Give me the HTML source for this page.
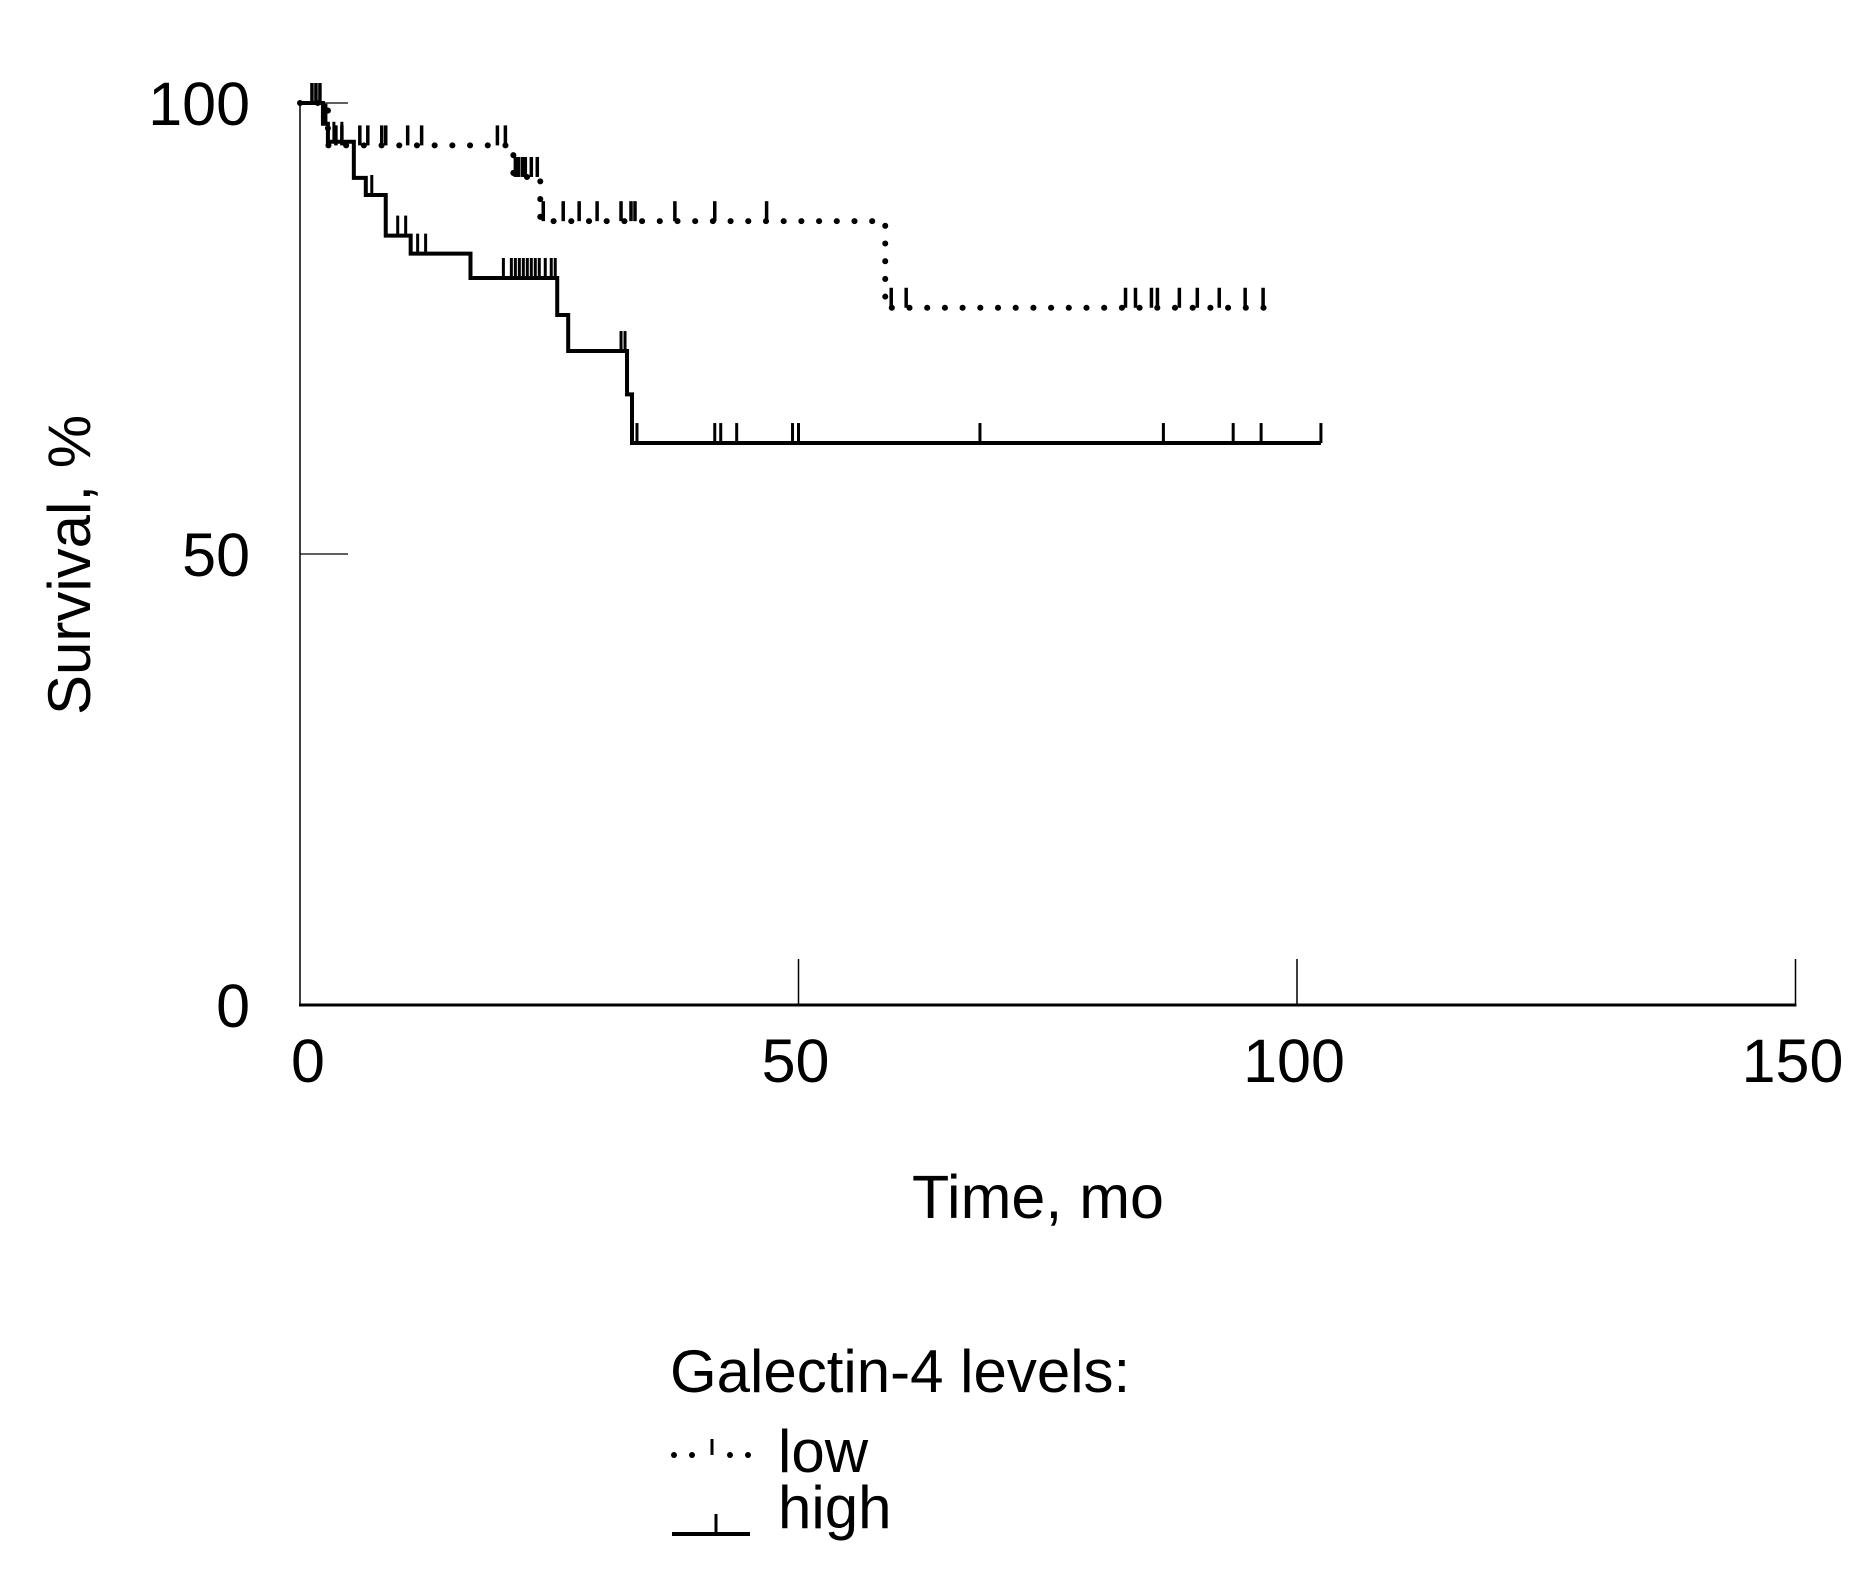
<!DOCTYPE html>
<html><head><meta charset="utf-8"><style>
html,body{margin:0;padding:0;background:#fff;}
svg{display:block;}
text{font-family:"Liberation Sans Narrow","Liberation Sans",sans-serif;fill:#000;}
</style></head><body>
<svg id="chart" width="1872" height="1593" viewBox="0 0 1872 1593" xmlns="http://www.w3.org/2000/svg">
<g id="axes"></g>
<g id="series"></g>
<text x="0" y="0" font-size="60" text-anchor="middle" transform="translate(90,565) rotate(-90)">Survival, %</text>
<text x="1038" y="1218" font-size="61" text-anchor="middle">Time, mo</text>
<g>
<text x="670" y="1392" font-size="60">Galectin-4 levels:</text>
<g>
<circle cx="674" cy="1455" r="3" fill="#000"/><circle cx="692" cy="1455" r="3" fill="#000"/>
<line x1="712" y1="1455" x2="712" y2="1439" stroke="#000" stroke-width="3"/>
<circle cx="730" cy="1455" r="3" fill="#000"/><circle cx="748" cy="1455" r="3" fill="#000"/>
<text x="778" y="1472" font-size="60">low</text>
</g>
<g>
<line x1="672" y1="1534" x2="750" y2="1534" stroke="#000" stroke-width="4"/>
<line x1="716" y1="1534" x2="716" y2="1514" stroke="#000" stroke-width="3"/>
<text x="778" y="1528" font-size="60">high</text>
</g>
</g>
</svg>
<script>
const xTicks = [0, 50, 100, 150];
const yTicks = [0, 50, 100];
// Kaplan-Meier step data: [time, survival after step]
const lowSteps = [[0,100],[2.8,95.3],[21.4,91.8],[24.1,86.9],[58.7,77.3]];
const lowEnd = 96.8;
const lowCensor = [1.2,1.6,2.0,3.6,4.2,6,6.8,8.2,8.6,10.8,12.2,19.8,20.6,21.6,21.9,22.3,22.6,23.2,23.8,24.4,26.4,28,29.8,32.2,33.2,33.6,37.6,41.6,46.8,59.3,60.8,82.8,83.8,85.4,86,88.2,90,92.2,94.8,96.6];
const highSteps = [[0,100],[2.3,97.7],[2.8,95.7],[5.4,91.7],[6.6,89.8],[8.6,85.3],[11.1,83.3],[17.1,80.6],[25.8,76.5],[26.9,72.5],[32.8,67.7],[33.3,62.3]];
const highEnd = 102.4;
const highCensor = [1.2,1.6,2.6,3.4,4.2,7.2,9.8,10.6,11.8,12.6,20.4,21.2,21.6,22,22.4,22.8,23.2,23.6,24,24.6,25.2,25.6,32.2,32.6,33.8,41.6,42.2,43.8,49.4,50,68.2,86.6,93.6,96.4,102.4];

const X0 = 300, XS = 9.97, Y0 = 1005, YS = 9.02;
const sx = t => X0 + t * XS;
const sy = v => Y0 - v * YS;
const NS = 'http://www.w3.org/2000/svg';
function mk(tag, parent, attrs) {
  const e = document.createElementNS(NS, tag);
  for (const k in attrs) e.setAttribute(k, attrs[k]);
  parent.appendChild(e);
  return e;
}
const axes = document.getElementById('axes');
const series = document.getElementById('series');

let a = mk('line', axes, {x1: sx(0), y1: sy(100), x2: sx(0), y2: sy(0), stroke: '#000', 'stroke-width': 1.5});


a = mk('line', axes, {x1: sx(0) - 1, y1: sy(0), x2: sx(150) + 1, y2: sy(0), stroke: '#000', 'stroke-width': 3});



yTicks.forEach(v => {
  if (v > 0) {
    const l = mk('line', axes, {x1: sx(0), y1: sy(v), x2: sx(0) + 48, y2: sy(v), stroke: '#000', 'stroke-width': 1.2});
    
    
  }
  const t = mk('text', axes, {x: 250, y: sy(v) + 22, 'font-size': 61, 'text-anchor': 'end'});
  t.textContent = v;
  
  
});
xTicks.forEach(v => {
  if (v > 0) {
    const l = mk('line', axes, {x1: sx(v), y1: sy(0), x2: sx(v), y2: sy(0) - 46, stroke: '#000', 'stroke-width': 1.5});
    
    
  }
  const t = mk('text', axes, {x: sx(v) + (v === 0 ? 8 : -3), y: 1082, 'font-size': 61, 'text-anchor': 'middle'});
  t.textContent = v;
  
  
});

function stepPath(steps, end) {
  let d = 'M' + sx(steps[0][0]) + ' ' + sy(steps[0][1]);
  for (let i = 1; i < steps.length; i++) {
    d += ' H' + sx(steps[i][0]) + ' V' + sy(steps[i][1]);
  }
  d += ' H' + sx(end);
  return d;
}
function levelAt(steps, t) {
  let v = steps[0][1];
  for (const s of steps) if (s[0] <= t) v = s[1];
  return v;
}
// low: dotted
const lp = mk('path', series, {d: stepPath(lowSteps, lowEnd), fill: 'none', stroke: '#000', 'stroke-width': 6, 'stroke-linecap': 'round', 'stroke-dasharray': '0.1 17.6'});


lowCensor.forEach(t => {
  const v = levelAt(lowSteps, t);
  const c = mk('line', series, {x1: sx(t), y1: sy(v), x2: sx(t), y2: sy(v) - 20, stroke: '#000', 'stroke-width': 3.5});
  
  
});
// high: solid
const hp = mk('path', series, {d: stepPath(highSteps, highEnd), fill: 'none', stroke: '#000', 'stroke-width': 4});


highCensor.forEach(t => {
  const v = levelAt(highSteps, t);
  const c = mk('line', series, {x1: sx(t), y1: sy(v), x2: sx(t), y2: sy(v) - 20, stroke: '#000', 'stroke-width': 3});
  
  
});
</script>
</body></html>
